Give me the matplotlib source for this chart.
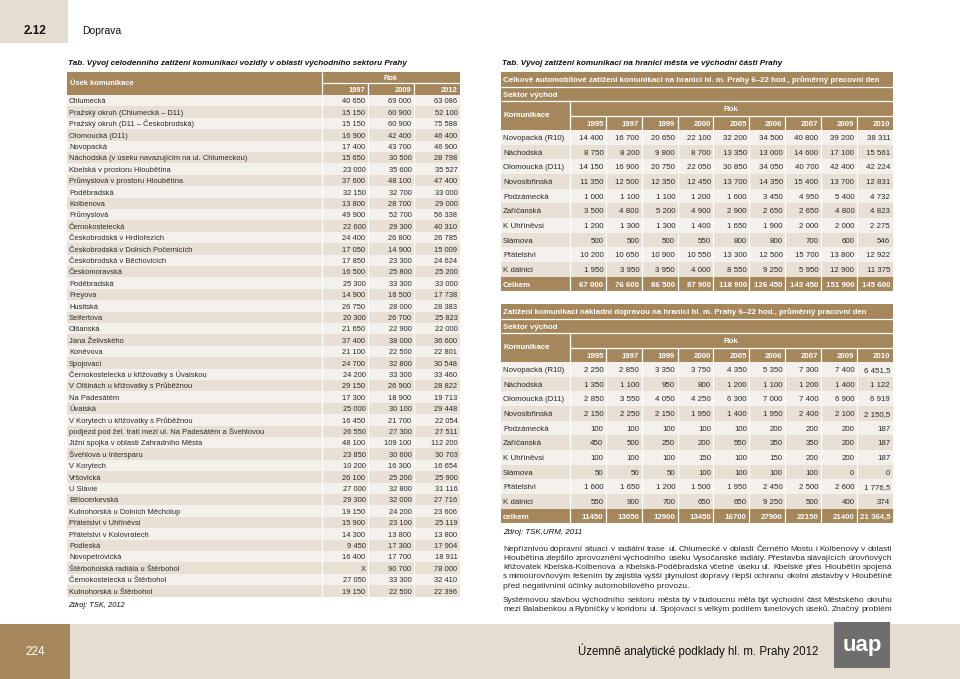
import matplotlib
matplotlib.use('Agg')
import matplotlib.pyplot as plt
from matplotlib.patches import Rectangle

# ---------------- data ----------------
left_names = [
    "Chlumecká", "Pražský okruh (Chlumecká – D11)", "Pražský okruh (D11 – Českobrodská)",
    "Olomoucká (D11)", "Novopacká", "Náchodská (v úseku navazujícím na ul. Chlumeckou)",
    "Kbelská v prostoru Hloubětína", "Průmyslová v prostoru Hloubětína", "Poděbradská",
    "Kolbenova", "Průmyslová", "Černokostelecká", "Českobrodská v Hrdlořezích",
    "Českobrodská v Dolních Počernicích", "Českobrodská v Běchovicích", "Českomoravská",
    "Poděbradská", "Freyova", "Husitská", "Seifertova", "Olšanská", "Jana Želivského",
    "Koněvova", "Spojovací", "Černokostelecká u křižovatky s Úvalskou",
    "V Olšinách u křižovatky s Průběžnou", "Na Padesátém", "Úvalská",
    "V Korytech u křižovatky s Průběžnou",
    "podjezd pod žel. tratí mezi ul. Na Padesátém a Švehlovou",
    "Jižní spojka v oblasti Zahradního Města", "Švehlova u Intersparu", "V Korytech",
    "Vršovická", "U Slavie", "Bělocerkevská", "Kutnohorská u Dolních Měcholup",
    "Přátelství v Uhříněvsi", "Přátelství v Kolovratech", "Podleská", "Novopetrovická",
    "Štěrboholská radiála u Štěrbohol", "Černokostelecká u Štěrbohol", "Kutnohorská u Štěrbohol",
]
left_years = ["1997", "2009", "2012"]
left_1997 = [40650, 15150, 15150, 16900, 17400, 15650, 23000, 37600, 32150, 13800, 49900,
             22600, 24400, 17050, 17850, 16500, 25300, 14900, 26750, 20300, 21650, 37400,
             21100, 24700, 24200, 29150, 17300, 25000, 16450, 26550, 48100, 23850, 10200,
             26100, 27000, 29300, 19150, 15900, 14300, 9450, 16400, None, 27050, 19150]
left_2009 = [69000, 60900, 60900, 42400, 43700, 30500, 35600, 48100, 32700, 28700, 52700,
             29300, 26800, 14900, 23300, 25800, 33300, 18500, 28000, 26700, 22900, 38000,
             22500, 32800, 33300, 26900, 18900, 30100, 21700, 27300, 109100, 30600, 16300,
             25200, 32800, 32000, 24200, 23100, 13800, 17300, 17700, 90700, 33300, 22500]
left_2012 = [63086, 52100, 75588, 46400, 46900, 28798, 35527, 47400, 33000, 29000, 56338,
             40310, 26785, 15009, 24624, 25200, 33000, 17738, 28383, 25823, 22000, 36600,
             22801, 30548, 33460, 28822, 19713, 29448, 22054, 27511, 112200, 30703, 16654,
             25900, 31116, 27716, 23606, 25119, 13800, 17904, 18911, 78000, 32410, 22396]

right_years = ["1995", "1997", "1999", "2000", "2005", "2006", "2007", "2009", "2010"]
right_names = ["Novopacká (R10)", "Náchodská", "Olomoucká (D11)", "Novosibřinská",
               "Podzámecká", "Zaříčanská", "K Uhříněvsi", "Slámova", "Přátelství", "K dálnici"]
car_novopacka = [14400, 16700, 20650, 22100, 32200, 34500, 40800, 39200, 38311]
car_nachodska = [8750, 8200, 9800, 8700, 13350, 13000, 14600, 17100, 15561]
car_olomoucka = [14150, 16900, 20750, 22050, 30850, 34050, 40700, 42400, 42224]
car_novosibrinska = [11350, 12500, 12350, 12450, 13700, 14350, 15400, 13700, 12831]
car_podzamecka = [1000, 1100, 1100, 1200, 1600, 3450, 4950, 5400, 4732]
car_zaricanska = [3500, 4800, 5200, 4900, 2900, 2650, 2650, 4800, 4823]
car_uhrinevsi = [1200, 1300, 1300, 1400, 1650, 1900, 2000, 2000, 2275]
car_slamova = [500, 500, 500, 550, 800, 800, 700, 600, 546]
car_pratelstvi = [10200, 10650, 10900, 10550, 13300, 12500, 15700, 13800, 12922]
car_kdalnici = [1950, 3950, 3950, 4000, 8550, 9250, 5950, 12900, 11375]
car_total = [67000, 76600, 86500, 87900, 118900, 126450, 143450, 151900, 145600]

truck_novopacka = [2250, 2850, 3350, 3750, 4350, 5350, 7300, 7400, 6451.5]
truck_nachodska = [1350, 1100, 950, 800, 1200, 1100, 1200, 1400, 1122]
truck_olomoucka = [2850, 3550, 4050, 4250, 6300, 7000, 7400, 6900, 6919]
truck_novosibrinska = [2150, 2250, 2150, 1950, 1400, 1950, 2400, 2100, 2150.5]
truck_podzamecka = [100, 100, 100, 100, 100, 200, 200, 200, 187]
truck_zaricanska = [450, 500, 250, 200, 550, 350, 350, 200, 187]
truck_uhrinevsi = [100, 100, 100, 150, 100, 150, 200, 200, 187]
truck_slamova = [50, 50, 50, 100, 100, 100, 100, 0, 0]
truck_pratelstvi = [1600, 1650, 1200, 1500, 1950, 2450, 2500, 2600, 1776.5]
truck_kdalnici = [550, 900, 700, 650, 650, 9250, 500, 400, 374]
truck_total = [11450, 13050, 12900, 13450, 16700, 27900, 22150, 21400, 21364.5]

car_rows = [car_novopacka, car_nachodska, car_olomoucka, car_novosibrinska, car_podzamecka,
            car_zaricanska, car_uhrinevsi, car_slamova, car_pratelstvi, car_kdalnici]
truck_rows = [truck_novopacka, truck_nachodska, truck_olomoucka, truck_novosibrinska,
              truck_podzamecka, truck_zaricanska, truck_uhrinevsi, truck_slamova,
              truck_pratelstvi, truck_kdalnici]

para1 = [
    "Nepříznivou dopravní situaci v radiální trase ul. Chlumecké v oblasti Černého Mostu i Kolbenovy v oblasti",
    "Hloubětína zlepšilo zprovoznění východního úseku Vysočanské radiály. Přestavba stávajících úrovňových",
    "křižovatek Kbelská-Kolbenova a Kbelská-Poděbradská včetně úseku ul. Kbelské přes Hloubětín spojená",
    "s mimoúrovňovým řešením by zajistila vyšší plynulost dopravy i lepší ochranu okolní zástavby v Hloubětíně",
    "před negativními účinky automobilového provozu.",
]
para2 = [
    "Systémovou stavbou východního sektoru města by v budoucnu měla být východní část Městského okruhu",
    "mezi Balabenkou a Rybníčky v koridoru ul. Spojovací s velkým podílem tunelových úseků. Značný problém",
]

# ---------------- style ----------------
BROWN = "#a6875b"
BEIGE = "#e6ddd1"
LIGHT = "#f4f1ec"
DARK = "#e8e0d5"
TXT = "#2a2a2a"
FONT = "Liberation Sans"
PX = 100 / 72.0  # px per pt


def fmt(v, sep=" "):
    if v is None:
        return "X"
    if isinstance(v, float) and v != int(v):
        ip = int(v)
        dec = str(v).split(".")[1]
        return fmt(ip, " ") + "," + dec
    s = f"{int(v):,}"
    return s.replace(",", sep)


W, H = 960, 679
fig = plt.figure(figsize=(9.6, 6.79), dpi=100)
ax = fig.add_axes([0, 0, 1, 1])
ax.set_xlim(0, W)
ax.set_ylim(H, 0)
ax.axis("off")


def rect(x0, y0, x1, y1, color, z=1):
    ax.add_patch(Rectangle((x0, y0), x1 - x0, y1 - y0, facecolor=color, edgecolor="none", zorder=z))


def txt(x, yc, s, size, ha="left", color=TXT, weight="normal", style="normal", family=FONT, z=5):
    off = size * PX * 0.36
    ax.text(x, yc + off, s, fontsize=size, ha=ha, va="baseline", color=color,
            fontweight=weight, fontstyle=style, family=family, zorder=z)


def vline(x, y0, y1, color="white", lw=0.9):
    ax.plot([x, x], [y0, y1], color=color, lw=lw, zorder=3, solid_capstyle="butt")


def hline(x0, x1, y, color="white", lw=0.9):
    ax.plot([x0, x1], [y, y], color=color, lw=lw, zorder=3, solid_capstyle="butt")


# ---------------- page header ----------------
rect(0, 0, 68, 43, BEIGE)
txt(35, 30, "2.12", 8.5, ha="center", weight="bold", color="#111111")
txt(82, 30, "Doprava", 7.5, color="#111111")

# ---------------- footer ----------------
rect(0, 624, W, H, BEIGE)
rect(0, 624, 70, H, BROWN, z=2)
txt(35, 651, "224", 8.5, ha="center", color="white")
txt(818, 651, "Územně analytické podklady hl. m. Prahy 2012", 8.3, ha="right", color="#111111",
    family=["Liberation Sans Narrow", "Liberation Sans"])
rect(834, 622, 890, 668, "#6e6e6e", z=2)
txt(862, 643, "uap", 16, ha="center", color="white", weight="bold")

# ---------------- left table ----------------
LS = 5.4
lx0, lname = 67, 322
lcols = [322, 368, 414, 460]
txt(68, 62, "Tab. Vývoj celodenního zatížení komunikací vozidly v oblasti východního sektoru Prahy",
    5.85, weight="bold", style="italic", color="#111111")
hy0, hy1, hy2 = 72, 83, 95
rect(lx0, hy0, lcols[-1], hy2, BROWN)
hline(lcols[0], lcols[-1], hy1)
vline(lcols[0], hy0, hy2)
for c in lcols[1:-1]:
    vline(c, hy1, hy2)
txt(70, (hy0 + hy2) / 2 - 1, "Úsek komunikace", LS, color="white", weight="bold")
txt((lcols[0] + lcols[-1]) / 2, (hy0 + hy1) / 2, "Rok", LS, ha="center", color="white", weight="bold")
for i, yr in enumerate(left_years):
    txt(lcols[i + 1] - 2.5, (hy1 + hy2) / 2, yr, LS, ha="right", color="white", weight="bold")

rh = 11.4
for r, name in enumerate(left_names):
    y0 = hy2 + r * rh
    rect(lx0, y0, lcols[-1], y0 + rh, LIGHT if r % 2 == 0 else DARK)
    yc = y0 + rh / 2
    txt(69, yc, name, LS)
    vals = [left_1997[r], left_2009[r], left_2012[r]]
    for i, v in enumerate(vals):
        txt(lcols[i + 1] - 2.5, yc, fmt(v), LS, ha="right")
lend = hy2 + len(left_names) * rh
for c in lcols:
    vline(c, hy2, lend)
txt(68, 604, "Zdroj: TSK, 2012", LS, style="italic", color="#111111")

# ---------------- right tables ----------------
RS = 5.7
rx0, rname, rx1 = 501, 570, 892.7
cw = (rx1 - rname) / len(right_years)
redges = [rname + i * cw for i in range(len(right_years) + 1)]


def right_table(top, title, rows, total, total_label, total_fmt):
    h = 14.5
    ys = [top, top + h, top + 2 * h, top + 3 * h, top + 4 * h]
    rect(rx0, ys[0], rx1, ys[4], BROWN)
    hline(rx0, rx1, ys[1])
    hline(rx0, rx1, ys[2])
    hline(rname, rx1, ys[3])
    vline(rname, ys[2], ys[4])
    for e in redges[1:-1]:
        vline(e, ys[3], ys[4])
    txt(503, (ys[0] + ys[1]) / 2, title, RS, color="white", weight="bold")
    txt(503, (ys[1] + ys[2]) / 2, "Sektor východ", RS, color="white", weight="bold")
    txt(503, (ys[2] + ys[4]) / 2 - 1, "Komunikace", RS, color="white", weight="bold")
    txt((rname + rx1) / 2, (ys[2] + ys[3]) / 2, "Rok", RS, ha="center", color="white", weight="bold")
    for i, yr in enumerate(right_years):
        txt(redges[i + 1] - 2.5, (ys[3] + ys[4]) / 2, yr, RS, ha="right", color="white", weight="bold")
    dh = 14.65
    d0 = ys[4]
    for r, name in enumerate(right_names):
        y0 = d0 + r * dh
        rect(rx0, y0, rx1, y0 + dh, LIGHT if r % 2 == 0 else DARK)
        yc = y0 + dh / 2
        txt(503, yc, name, RS)
        for i, v in enumerate(rows[r]):
            txt(redges[i + 1] - 2.5, yc, fmt(v), RS, ha="right")
    y0 = d0 + len(right_names) * dh
    rect(rx0, y0, rx1, y0 + dh, BROWN)
    yc = y0 + dh / 2
    txt(503, yc, total_label, RS, color="white", weight="bold")
    for i, v in enumerate(total):
        txt(redges[i + 1] - 2.5, yc, total_fmt(v), RS, ha="right", color="white", weight="bold")
    for e in redges[:-1]:
        vline(e, d0, y0 + dh)


txt(502, 62, "Tab. Vývoj zatížení komunikací na hranici města ve východní části Prahy",
    5.85, weight="bold", style="italic", color="#111111")
right_table(72, "Celkové automobilové zatížení komunikací na hranici hl. m. Prahy 6–22 hod., průměrný pracovní den",
            car_rows, car_total, "Celkem", lambda v: fmt(v))
right_table(304, "Zatížení komunikací nákladní dopravou na hranici hl. m. Prahy 6–22 hod., průměrný pracovní den",
            truck_rows, truck_total, "celkem",
            lambda v: fmt(v, " " if isinstance(v, float) else ""))
txt(503, 531, "Zdroj: TSK,URM, 2011", RS, style="italic", color="#111111")

# ---------------- justified paragraphs ----------------
PS = 6.05
fig.canvas.draw()
renderer = fig.canvas.get_renderer()


def word_width(w):
    t = ax.text(0, 0, w, fontsize=PS, family=FONT)
    bb = t.get_window_extent(renderer=renderer)
    t.remove()
    return bb.width


def justified(lines, y0, dy, x0=503, x1=892, last_justify=False):
    for k, line in enumerate(lines):
        y = y0 + k * dy
        words = line.split(" ")
        if k == len(lines) - 1 and not last_justify:
            txt(x0, y, line, PS, color=TXT)
            continue
        widths = [word_width(w) for w in words]
        gap = max((x1 - x0 - sum(widths)) / (len(words) - 1), 1.0)
        x = x0
        for w, wd in zip(words, widths):
            txt(x, y, w, PS, color=TXT)
            x += wd + gap


justified(para1, 547.5, 9.25)
justified(para2, 599, 9.25, last_justify=True)

fig.savefig("out.png", dpi=100)
